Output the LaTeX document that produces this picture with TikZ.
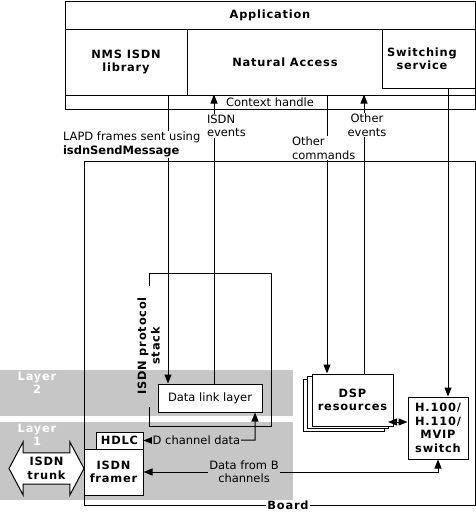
\documentclass[tikz,border=0pt]{standalone}
\usepackage{fontspec}
\setmainfont{DejaVu Sans}
\newfontfamily\widefont{DejaVu Sans}[LetterSpace=7]
\usepackage{xcolor}
\usepackage{tikz}
\usetikzlibrary{arrows.meta,shapes.arrows}
\definecolor{bandgray}{RGB}{198,198,198}
\tikzset{
  box/.style={draw, line width=1pt, fill=white, inner sep=1pt},
  band/.style={fill=bandgray, draw=none, inner sep=0pt},
  bold/.style={font=\widefont\bfseries\fontsize{11.4}{13.5}\selectfont, align=center},
  plain/.style={font=\fontsize{11.5}{13.5}\selectfont},
  lbl/.style={plain, fill=white, inner sep=0.8pt, align=left},
  flow/.style={-{Triangle[length=9pt,width=7pt]}, line width=1pt},
  dflow/.style={{Triangle[length=9pt,width=7pt]}-{Triangle[length=9pt,width=7pt]}, line width=1pt}
}

\begin{document}
\begin{tikzpicture}[x=1pt,y=-1pt]
  \useasboundingbox (0,0) rectangle (476,512);

  \node[band, minimum width=293, minimum height=46, anchor=north west] (layer2) at (0,370) {};
  \node[band, minimum width=293, minimum height=78, anchor=north west] (layer1) at (0,422) {};
  \node[bold, text=white] (l2txt) at (37,383) {Layer\\2};
  \node[bold, text=white] (l1txt) at (37,435) {Layer\\1};

  \node[draw, line width=1pt, minimum width=391, minimum height=344] (board) at (279.5,333) {};

  \node[box, bold, minimum width=410, minimum height=28] (app) at (270,15) {Application};
  \node[box, minimum width=410, minimum height=66] (midrow) at (270,62) {};
  \node[box, bold, minimum width=122, minimum height=66] (nms) at (126,62) {NMS ISDN\\library};
  \node[bold] (natacc) at (285,62) {Natural Access};
  \node[box, minimum width=93, minimum height=59] (swsvc) at (428.5,58.5) {};
  \node[bold] (swtxt) at (422,58.5) {Switching\\service};
  \node[box, plain, minimum width=410, minimum height=14] (ctx) at (270,102) {};
  \node[plain, inner sep=0pt] (ctxtxt) at (270,102) {Context handle};

  \draw[line width=1pt] (149,286) -- (149,273) -- (271,273) -- (271,426) -- (149,426) -- (149,407);
  \node[bold, rotate=90] (stack) at (148.5,346) {ISDN protocol\\stack};

  \node[box, plain, minimum width=104, minimum height=28] (dll) at (210,398) {Data link layer};
  \node[box, bold, minimum width=47, minimum height=17] (hdlc) at (119.5,440.5) {HDLC};
  \node[box, bold, minimum width=59, minimum height=46] (framer) at (113.5,472) {ISDN\\framer};
  \node[draw, fill=white, line width=1pt, bold, double arrow, double arrow head extend=9.5pt,
        double arrow tip angle=124, minimum height=75, minimum width=53, inner sep=2pt] (trunk) at (46.5,468.5) {ISDN\\trunk};

  \node[box, minimum width=81, minimum height=52] (dspc) at (343.5,405) {};
  \node[box, minimum width=81, minimum height=52] (dspb) at (348,402.5) {};
  \node[box, bold, minimum width=81, minimum height=52] (dsp) at (352.5,400) {DSP\\resources};
  \node[box, bold, minimum width=60, minimum height=62] (switch) at (438,428) {H.100/\\H.110/\\MVIP\\switch};

  \coordinate (dbend) at (255,440);
  \coordinate (dspj) at (388,422);

  \draw[flow] (ctx.north -| 168,0) -- (dll.north -| 168,0);
  \draw[flow] (dll.north -| 214,0) -- (ctx.north -| 214,0);
  \draw[flow] (ctx.north -| 327,0) -- (dsp.north -| 327,0);
  \draw[flow] (dsp.north -| 364,0) -- (ctx.north -| 364,0);
  \draw[flow] (swsvc.south -| 448,0) -- (switch.north -| 448,0);
  \draw[dflow] (hdlc.east) -- (dbend) -- (dll.south -| dbend);
  \draw[dflow] (framer.east) -- (framer.east -| 438,0) -- (switch.south -| 438,0);
  \draw[dflow] (dspj) -- (switch.west |- dspj);

  \node[lbl, anchor=west] (lapd) at (62,144.5) {LAPD frames sent using\\\textbf{isdnSendMessage}};
  \node[lbl, anchor=west] (isdnev) at (206,126) {ISDN\\events};
  \node[lbl, anchor=west] (othcmd) at (291,148) {Other\\commands};
  \node[lbl, align=center] (othev) at (367,125) {Other\\events};
  \node[lbl, fill=bandgray] (dchan) at (196.5,440) {D channel data};
  \node[lbl, fill=bandgray, align=center] (bdata) at (244,471.5) {Data from B\\channels};
  \node[bold, fill=white, inner sep=1pt] (boardtxt) at (288,505) {Board};
\end{tikzpicture}
\end{document}
